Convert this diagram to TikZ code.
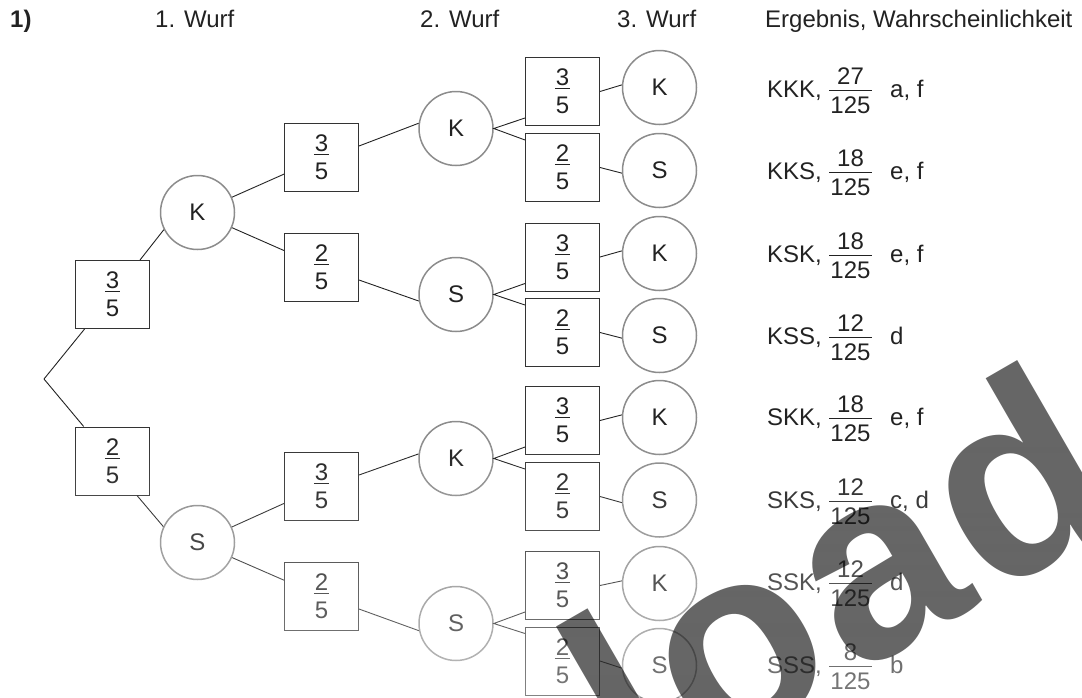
\documentclass[tikz,border=0pt]{standalone}
\usepackage{fontspec}
\setmainfont{Liberation Sans}
\usetikzlibrary{calc,fadings}
\definecolor{ink}{HTML}{222222}
\definecolor{ring}{HTML}{8C8C8C}
\definecolor{edge}{HTML}{333333}
\newbox\frboxa \newbox\frboxb \newdimen\frwd
% #1 numerator, #2 denominator, #3 gap numerator baseline -> bar, #4 bar -> denominator baseline
\newcommand{\frc}[4]{%
  \setbox\frboxa=\hbox{#1}\setbox\frboxb=\hbox{#2}%
  \frwd=\wd\frboxa \ifdim\wd\frboxb>\frwd \frwd=\wd\frboxb\fi
  \advance\frwd by 2pt
  \vbox{\hbox to\frwd{\hss\box\frboxa\hss}\kern\dimexpr#3-0.6pt\relax
    \hrule height 1.2pt
    \kern\dimexpr#4-0.6pt-\ht\frboxb\relax
    \hbox to\frwd{\hss\box\frboxb\hss}}}
\newcommand{\fb}[2]{\frc{#1}{#2}{3pt}{25pt}}
\newcommand{\fl}[2]{\frc{#1}{#2}{6pt}{23pt}}
\tikzfading[name=fadedown, top color=transparent!100, bottom color=transparent!0]
\begin{document}
\begin{tikzpicture}[x=1pt,y=-1pt,
  every node/.style={font=\fontsize{24}{28}\selectfont, text=ink},
  prob/.style={draw=edge, line width=1pt, minimum width=74pt, minimum height=68pt, inner sep=0pt},
  res/.style={circle, draw=ring, line width=1.5pt, minimum size=74pt, inner sep=0pt},
  conn/.style={draw=ink, line width=0.9pt},
  txt/.style={anchor=base west, inner sep=0pt}]
\useasboundingbox (0,0) rectangle (1082,697);

% headers
\node[txt, font=\fontsize{24}{28}\selectfont\bfseries] (h0) at (10,27) {1)};
\node[txt] (h1) at (155,27) {1. Wurf};
\node[txt] (h2) at (420,27) {2. Wurf};
\node[txt] (h3) at (617,27) {3. Wurf};
\node[txt] (h4) at (765,27) {Ergebnis, Wahrscheinlichkeit};

% level 1
\coordinate (root) at (44,379);
\node[prob] (b1a) at (112.5,294.5) {\fb{3}{5}};
\node[prob] (b1b) at (112.5,461) {\fb{2}{5}};
\node[res] (c1a) at (197.5,212.5) {K};
\node[res] (c1b) at (197.5,542.5) {S};

% level 2
\node[prob] (b2a) at (321.5,157.5) {\fb{3}{5}};
\node[prob] (b2b) at (321.5,267) {\fb{2}{5}};
\node[prob] (b2c) at (321.5,486.5) {\fb{3}{5}};
\node[prob] (b2d) at (321.5,596.5) {\fb{2}{5}};
\node[res] (c2a) at (456,128.5) {K};
\node[res] (c2b) at (456,294.5) {S};
\node[res] (c2c) at (456,458.5) {K};
\node[res] (c2d) at (456,623.5) {S};

% level 3
\foreach \n/\by/\cy/\f/\l/\ang in {a/91.5/87.5/3/K/176, b/167.5/170.5/2/S/184,
    c/257/253.5/3/K/176, d/332.5/335.5/2/S/184, e/420.5/417.5/3/K/176,
    f/496.5/500/2/S/184, g/585.5/583.5/3/K/176, h/661/665.5/2/S/184}{
  \node[prob] (b3\n) at (562.5,\by) {\fb{\f}{5}};
  \node[res] (c3\n) at (659.5,\cy) {\l};
  \draw[conn] (b3\n.east) -- (c3\n.\ang);
}

% connectors
\draw[conn] (root) -- (b1a);
\draw[conn] (root) -- (b1b);
\draw[conn] ($(b1a.north west)+(65,0)$) -- (c1a.207);
\draw[conn] ($(b1b.south west)+(62,0)$) -- (c1b.155);
\draw[conn] (c1a) -- (b2a);
\draw[conn] (c1a) -- (b2b);
\draw[conn] (c1b) -- (b2c);
\draw[conn] (c1b) -- (b2d);
\draw[conn] ($(b2a.east)+(0,-11.5)$) -- (c2a.172);
\draw[conn] ($(b2b.east)+(0,13)$) -- (c2b.190);
\draw[conn] ($(b2c.east)+(0,-11.5)$) -- (c2c.173);
\draw[conn] ($(b2d.east)+(0,12.5)$) -- (c2d.191);
\foreach \p/\u/\d in {a/a/b, b/c/d, c/e/f, d/g/h}{
  \draw[conn] ($(b3\u.south west)+(0,-8)$) -- (c2\p.east) -- ($(b3\d.north west)+(0,7)$);
}

% results
\node[txt] (r1n) at (767,97) {KKK,};
\node[inner sep=0pt] (r1f) at (850.5,91) {\fl{27}{125}};
\node[txt] (r1s) at (890,97) {a, f};
\node[txt] (r2n) at (767,179) {KKS,};
\node[inner sep=0pt] (r2f) at (850.5,173) {\fl{18}{125}};
\node[txt] (r2s) at (890,179) {e, f};
\node[txt] (r3n) at (767,262) {KSK,};
\node[inner sep=0pt] (r3f) at (850.5,256) {\fl{18}{125}};
\node[txt] (r3s) at (890,262) {e, f};
\node[txt] (r4n) at (767,344) {KSS,};
\node[inner sep=0pt] (r4f) at (850.5,338) {\fl{12}{125}};
\node[txt] (r4s) at (890,344) {d};
\node[txt] (r5n) at (767,425) {SKK,};
\node[inner sep=0pt] (r5f) at (850.5,419) {\fl{18}{125}};
\node[txt] (r5s) at (890,425) {e, f};
\node[txt] (r6n) at (767,508) {SKS,};
\node[inner sep=0pt] (r6f) at (850.5,502) {\fl{12}{125}};
\node[txt] (r6s) at (890,508) {c, d};
\node[txt] (r7n) at (767,590) {SSK,};
\node[inner sep=0pt] (r7f) at (850.5,584) {\fl{12}{125}};
\node[txt] (r7s) at (890,590) {d};
\node[txt] (r8n) at (767,673) {SSS,};
\node[inner sep=0pt] (r8f) at (850.5,667) {\fl{8}{125}};
\node[txt] (r8s) at (890,673) {b};

% fade of the lower part
\fill[white, fill opacity=0.4, path fading=fadedown] (0,430) rectangle (1082,697);

% watermark
\node[rotate=30, anchor=base west, inner sep=0pt, text=black, text opacity=0.6,
      font=\fontsize{265}{300}\selectfont\bfseries] (wm) at (636,803) {l\kern9pt o\kern8pt a\kern8pt d};
\end{tikzpicture}
\end{document}
